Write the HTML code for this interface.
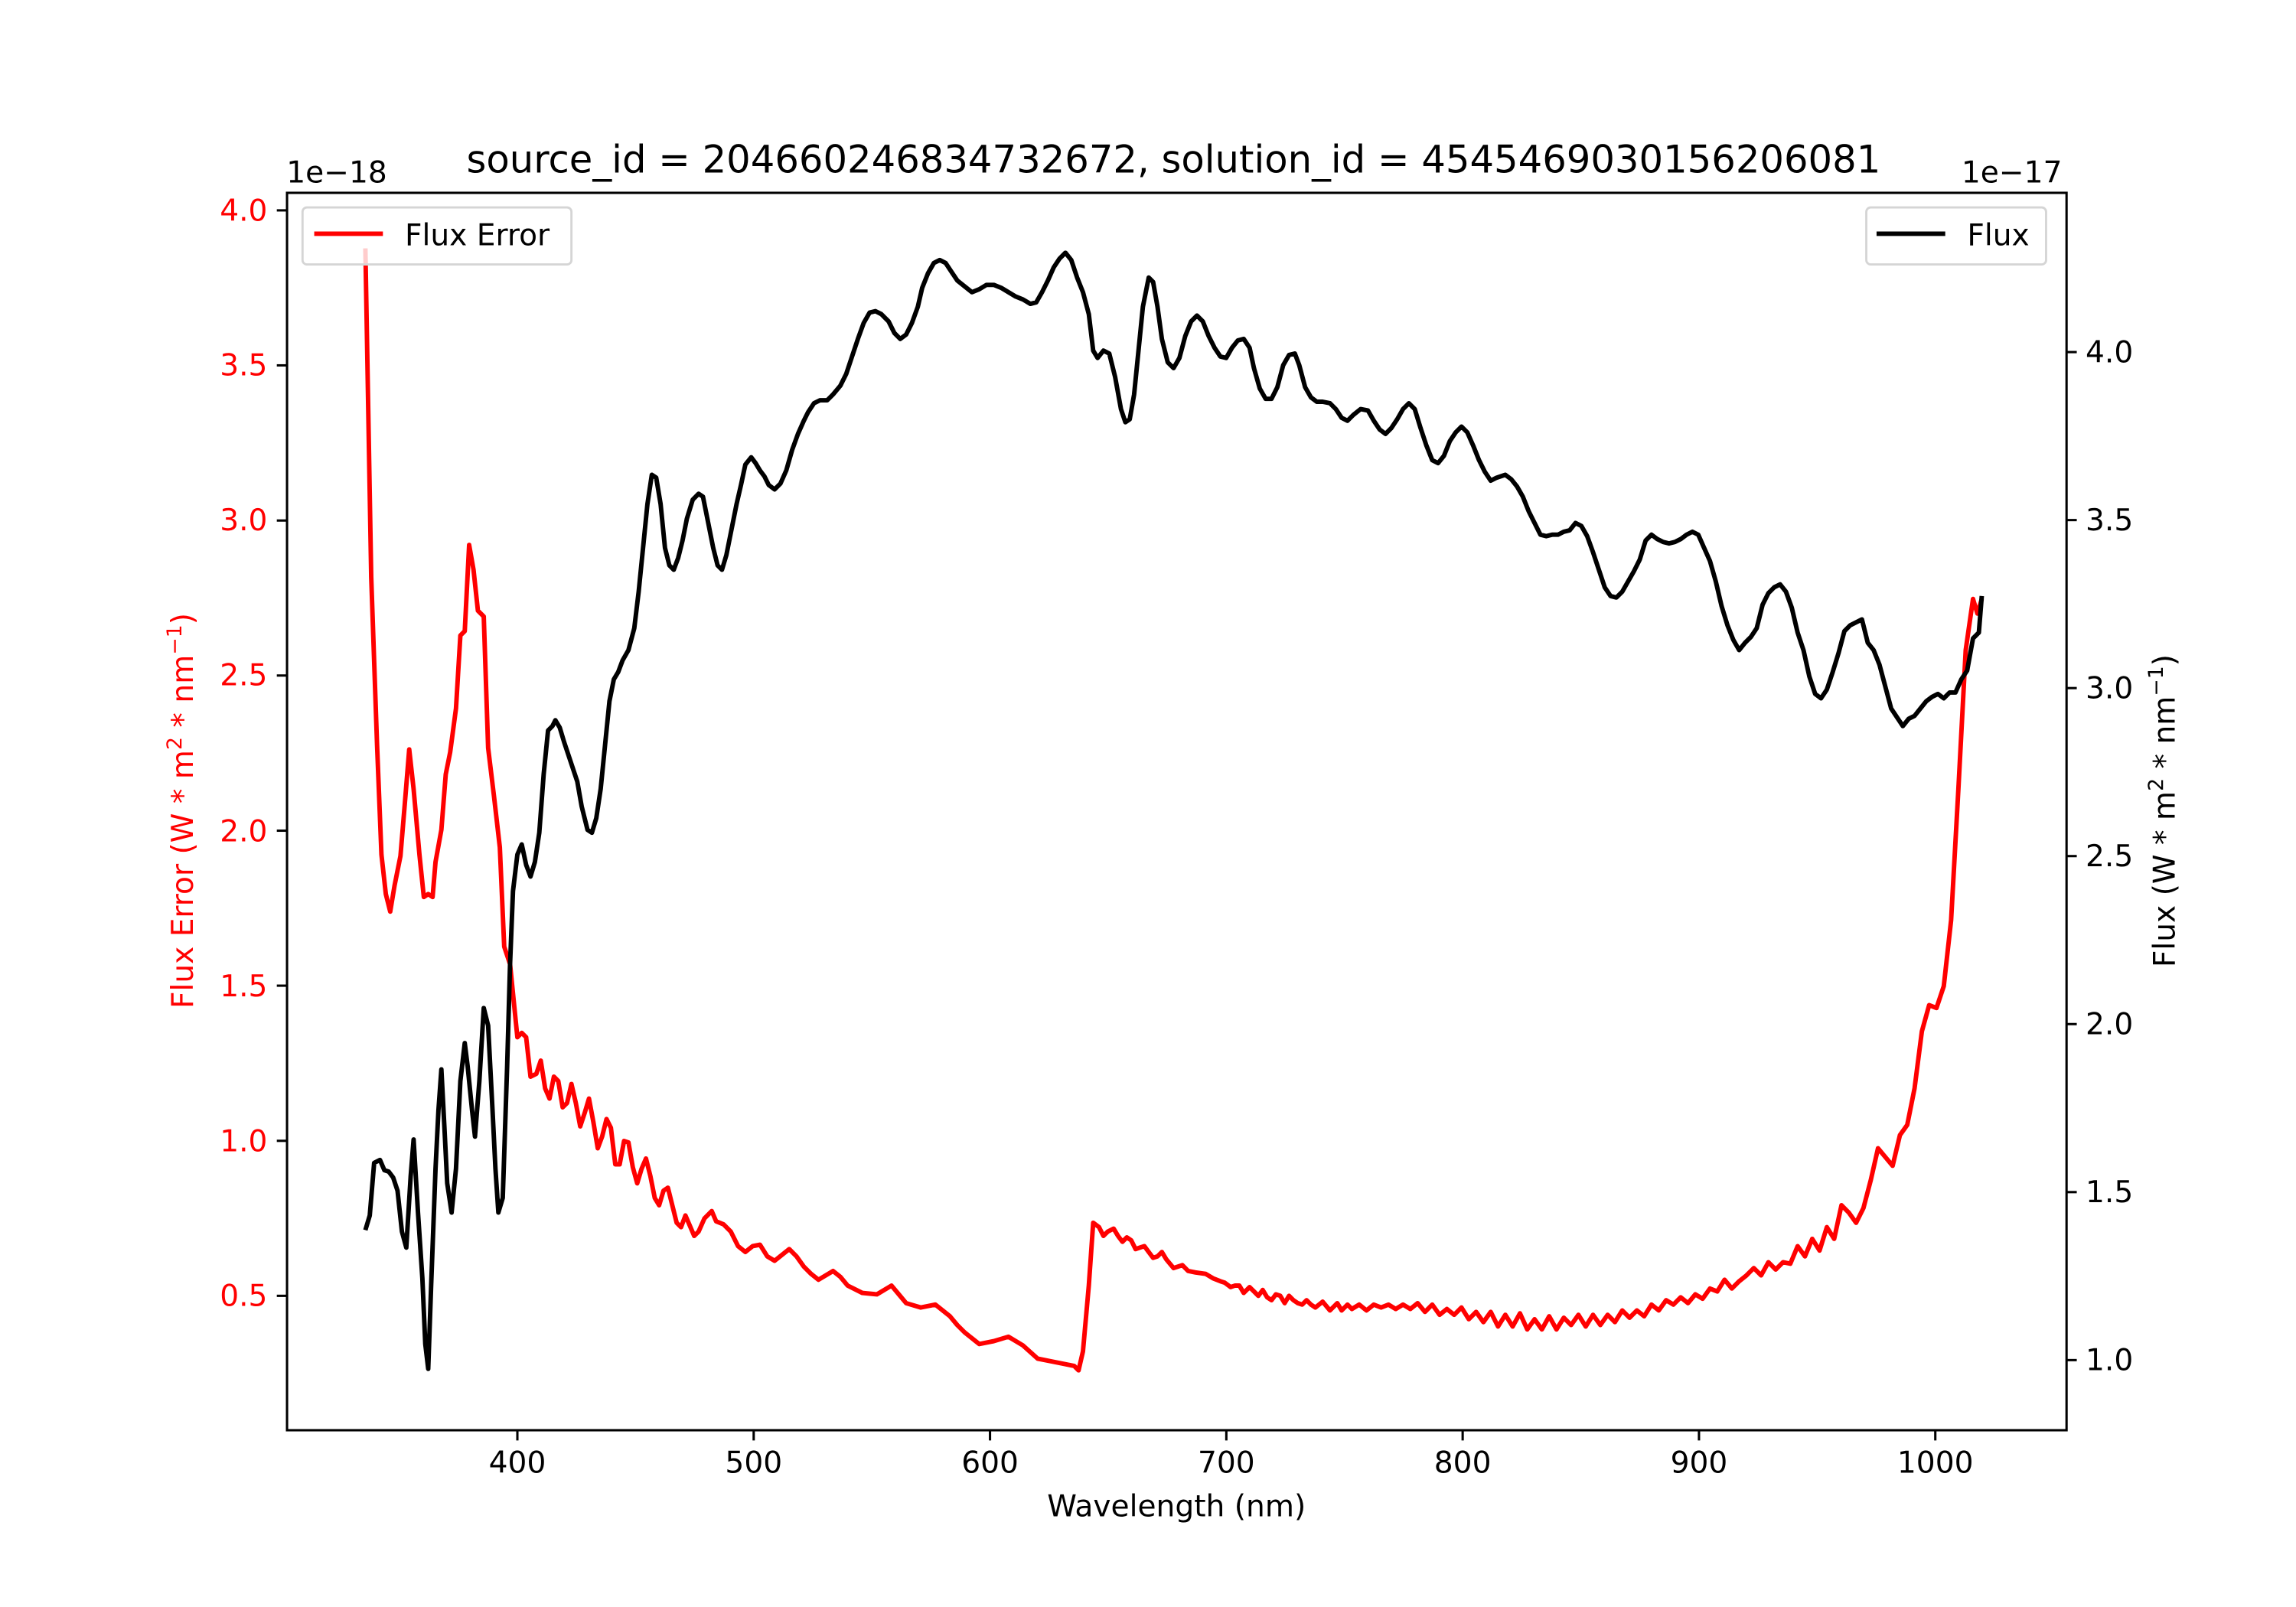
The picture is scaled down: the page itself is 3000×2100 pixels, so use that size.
<!DOCTYPE html>
<html><head><meta charset="utf-8"><style>html,body{margin:0;padding:0;background:#fff}svg{display:block}</style></head>
<body>
<svg width="3000" height="2100" viewBox="0 0 1571 1100" preserveAspectRatio="none" xmlns="http://www.w3.org/2000/svg" font-family="DejaVu Sans, Liberation Sans, sans-serif">
<rect width="1571" height="1100" fill="#fff"/>
<defs><clipPath id="c"><rect x="196.4" y="132" width="1217.6" height="847"/></clipPath></defs>
<g clip-path="url(#c)" fill="none" stroke-width="3.1" stroke-linejoin="round">
<polyline stroke="#ff0000" points="250,170 254,395 258,510 261,585 264,612 267,624 270,606 274,586 277,550 280,513 283,540 287,585 290,614 293,612 296,614 298,590 302,568 305,530 308,515 312,485 315,435 318,432 321,373 324,390 327,418 331,422 334,512 338,545 342,580 345,648 349,660 352,690 354,710 357,707 360,710 363,737 367,735 370,726 373,745 376,752 379,737 382,740 385,758 388,755 391,742 394,755 397,771 400,762 403,752 406,768 409,786 412,778 415,766 418,772 421,797 424,797 427,781 430,782 433,799 436,810 439,800 442,793 445,805 448,820 451,825 454,815 457,813 460,825 463,837 466,840 469,832 472,839 475,846 478,843 482,834 487,829 490,836 495,838 500,843 505,853 510,857 515,853 520,852 525,860 530,863 535,859 540,855 545,860 550,867 555,872 560,876 570,870 575,874 580,880 590,885 600,886 610,880 615,886 620,892 630,895 640,893 650,901 655,907 660,912 670,920 680,918 690,915 700,921 710,930 720,932 735,935 738,938 741,925 745,880 748,837 752,840 755,846 758,843 762,841 765,846 768,850 771,847 774,849 777,855 780,854 783,853 786,857 789,861 792,860 795,857 798,862 803,868 806,867 809,866 813,870 818,871 825,872 830,875 835,877 838,878 842,881 845,880 848,880 851,885 855,881 858,884 861,887 864,883 867,888 870,890 873,886 876,887 879,892 882,887 885,890 888,892 891,893 894,890 897,893 900,895 905,891 910,897 915,892 918,897 922,893 925,896 930,893 935,897 940,893 945,895 950,893 955,896 960,893 965,896 970,892 975,898 980,893 985,900 990,896 995,900 1000,895 1005,903 1010,898 1015,905 1020,898 1025,908 1030,900 1035,908 1040,899 1045,910 1050,903 1055,910 1060,901 1065,910 1070,902 1075,907 1080,900 1085,908 1090,900 1095,907 1100,900 1105,905 1110,897 1115,902 1120,897 1125,901 1130,893 1135,897 1140,890 1145,893 1150,888 1155,892 1160,886 1165,889 1170,882 1175,884 1180,876 1185,882 1190,877 1195,873 1200,868 1205,873 1210,864 1215,869 1220,864 1225,865 1230,853 1235,860 1240,848 1245,856 1250,840 1255,848 1260,825 1265,830 1270,837 1275,827 1280,808 1285,786 1290,792 1295,798 1300,777 1305,770 1310,745 1315,706 1320,688 1325,690 1330,675 1335,630 1340,540 1345,445 1350,410 1353,420 1356,410"/>
<polyline stroke="#000" points="250,842 253,832 256,796 260,794 263,801 266,802 269,806 272,815 275,843 278,854 281,805 283,780 286,830 289,875 291,920 293,937 295,880 298,800 300,760 302,732 304,770 306,810 309,830 312,800 315,740 318,714 320,730 323,760 325,778 328,740 331,690 334,702 337,760 339,800 341,830 344,820 347,730 349,660 351,610 354,585 357,578 360,592 363,600 366,590 369,570 372,530 375,500 378,497 380,493 383,498 386,508 390,520 395,535 398,552 402,568 405,570 408,560 411,540 414,510 417,480 420,465 423,460 426,452 430,445 434,430 437,405 440,375 443,345 446,325 449,327 452,345 455,375 458,387 461,390 464,382 467,370 470,355 474,342 478,338 481,340 484,355 488,375 491,387 494,390 497,380 500,365 504,345 507,332 510,318 514,313 517,317 520,322 523,326 526,332 530,335 534,331 538,322 542,308 546,297 550,288 553,282 557,276 561,274 566,274 570,270 575,264 579,256 583,244 587,232 591,221 595,214 599,213 603,215 608,220 612,228 616,232 620,229 624,221 628,210 631,197 635,187 639,180 643,178 647,180 651,186 655,192 660,196 665,200 670,198 675,195 680,195 685,197 690,200 695,203 700,205 705,208 709,207 713,200 717,192 721,183 725,177 729,173 733,178 737,190 741,200 745,215 748,240 751,245 755,240 759,242 763,258 767,280 770,289 773,287 776,270 779,240 782,210 786,190 789,193 792,210 795,232 799,248 803,252 807,245 811,230 815,220 819,216 823,220 827,230 831,238 835,244 839,245 843,238 847,233 851,232 855,238 858,252 862,266 866,273 870,273 874,265 878,250 882,243 886,242 889,250 893,265 897,272 901,275 905,275 910,276 914,280 918,286 922,288 926,284 931,280 936,281 940,288 944,294 948,297 952,293 956,287 960,280 964,276 968,280 972,293 976,305 980,315 984,317 988,312 992,302 996,296 1000,292 1004,296 1008,305 1012,315 1016,323 1020,329 1024,327 1030,325 1034,328 1038,333 1042,340 1046,350 1050,358 1054,366 1058,367 1062,366 1066,366 1070,364 1074,363 1078,358 1082,360 1086,367 1090,378 1094,390 1098,402 1102,408 1106,409 1110,405 1114,398 1118,391 1122,383 1126,370 1130,366 1134,369 1138,371 1142,372 1146,371 1150,369 1154,366 1158,364 1162,366 1166,375 1170,384 1174,398 1178,415 1182,428 1186,438 1190,445 1194,440 1198,436 1202,430 1206,414 1210,406 1214,402 1218,400 1222,405 1226,416 1230,433 1234,445 1238,463 1242,475 1246,478 1250,472 1254,460 1258,447 1262,432 1266,428 1270,426 1274,424 1278,440 1282,445 1286,455 1290,470 1294,485 1298,491 1302,497 1306,492 1310,490 1314,485 1318,480 1322,477 1326,475 1330,478 1334,474 1338,474 1342,465 1346,459 1350,437 1354,433 1356,408"/>
</g>
<rect x="207" y="142" width="184" height="39" rx="3" fill="#fff" fill-opacity="0.8" stroke="#d5d5d5" stroke-width="1.5"/>
<line x1="215" y1="160" x2="262" y2="160" stroke="#ff0000" stroke-width="3.1"/>
<text x="277" y="168" font-size="20.5" fill="#000">Flux Error</text>
<rect x="1277" y="142" width="123" height="39" rx="3" fill="#fff" fill-opacity="0.8" stroke="#d5d5d5" stroke-width="1.5"/>
<line x1="1284" y1="160" x2="1331" y2="160" stroke="#000" stroke-width="3.1"/>
<text x="1346" y="168" font-size="20.5" fill="#000">Flux</text>
<rect x="196.4" y="132" width="1217.6" height="847" fill="none" stroke="#000" stroke-width="1.6"/>
<g stroke="#000" stroke-width="1.6">
<line x1="354" y1="979" x2="354" y2="986"/><line x1="515.7" y1="979" x2="515.7" y2="986"/><line x1="677.4" y1="979" x2="677.4" y2="986"/><line x1="839.1" y1="979" x2="839.1" y2="986"/><line x1="1000.8" y1="979" x2="1000.8" y2="986"/><line x1="1162.5" y1="979" x2="1162.5" y2="986"/><line x1="1324.2" y1="979" x2="1324.2" y2="986"/>
</g>
<g font-size="20.5" text-anchor="middle" fill="#000">
<text x="354" y="1008">400</text><text x="515.7" y="1008">500</text><text x="677.4" y="1008">600</text><text x="839.1" y="1008">700</text><text x="1000.8" y="1008">800</text><text x="1162.5" y="1008">900</text><text x="1324.2" y="1008">1000</text>
<text x="805" y="1038">Wavelength (nm)</text>
<text x="803" y="118" font-size="26">source_id = 204660246834732672, solution_id = 4545469030156206081</text>
</g>
<g stroke="#000" stroke-width="1.6">
<line x1="189.4" y1="144" x2="196.4" y2="144"/><line x1="189.4" y1="250.1" x2="196.4" y2="250.1"/><line x1="189.4" y1="356.3" x2="196.4" y2="356.3"/><line x1="189.4" y1="462.4" x2="196.4" y2="462.4"/><line x1="189.4" y1="568.6" x2="196.4" y2="568.6"/><line x1="189.4" y1="674.7" x2="196.4" y2="674.7"/><line x1="189.4" y1="780.9" x2="196.4" y2="780.9"/><line x1="189.4" y1="887" x2="196.4" y2="887"/>
<line x1="1414" y1="241" x2="1421" y2="241"/><line x1="1414" y1="356" x2="1421" y2="356"/><line x1="1414" y1="471" x2="1421" y2="471"/><line x1="1414" y1="586" x2="1421" y2="586"/><line x1="1414" y1="701" x2="1421" y2="701"/><line x1="1414" y1="816" x2="1421" y2="816"/><line x1="1414" y1="931" x2="1421" y2="931"/>
</g>
<g font-size="20.5" text-anchor="end" fill="#ff0000">
<text x="183" y="151">4.0</text><text x="183" y="257">3.5</text><text x="183" y="363">3.0</text><text x="183" y="469">2.5</text><text x="183" y="576">2.0</text><text x="183" y="682">1.5</text><text x="183" y="788">1.0</text><text x="183" y="894">0.5</text>
</g>
<g font-size="20.5" fill="#000">
<text x="1427" y="248">4.0</text><text x="1427" y="363">3.5</text><text x="1427" y="478">3.0</text><text x="1427" y="593">2.5</text><text x="1427" y="708">2.0</text><text x="1427" y="823">1.5</text><text x="1427" y="938">1.0</text>
<text x="196" y="125">1e−18</text>
<text x="1411" y="125" text-anchor="end">1e−17</text>
</g>
<text transform="translate(132,555) rotate(-90)" font-size="20.5" text-anchor="middle" fill="#ff0000">Flux Error (W * m<tspan font-size="14" dy="-8">2</tspan><tspan dy="8"> * nm</tspan><tspan font-size="14" dy="-8">−1</tspan><tspan dy="8">)</tspan></text>
<text transform="translate(1488,555) rotate(-90)" font-size="20.5" text-anchor="middle" fill="#000">Flux (W * m<tspan font-size="14" dy="-8">2</tspan><tspan dy="8"> * nm</tspan><tspan font-size="14" dy="-8">−1</tspan><tspan dy="8">)</tspan></text>
</svg>
</body></html>
